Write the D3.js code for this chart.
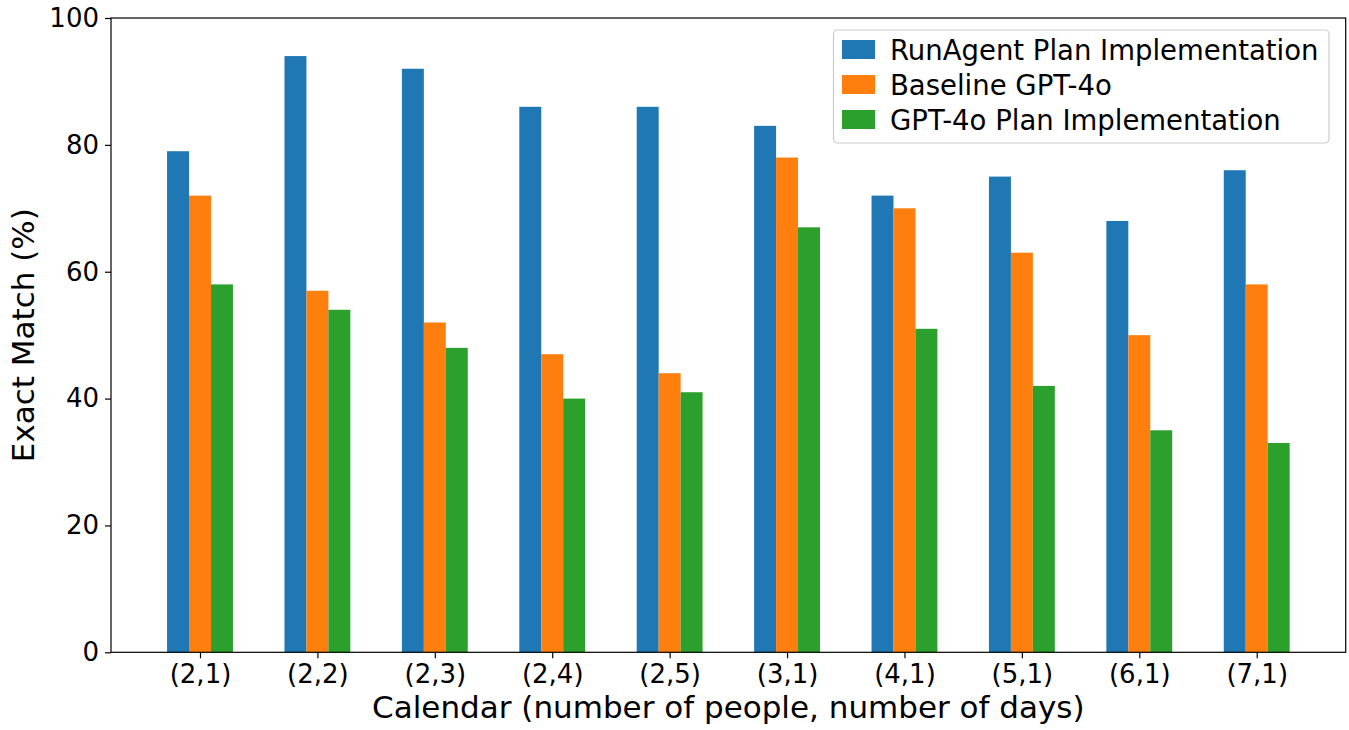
<!DOCTYPE html>
<html>
<head>
<meta charset="utf-8">
<script src="https://cdn.jsdelivr.net/npm/d3@7/dist/d3.min.js"></script>
<style>
  html, body { margin: 0; padding: 0; background: #fff; }
  svg { display: block; }
  text { font-family: "DejaVu Sans", sans-serif; fill: #000; }
</style>
</head>
<body>
<svg id="chart" width="1349" height="730"></svg>
<script>
const categories = ["(2,1)", "(2,2)", "(2,3)", "(2,4)", "(2,5)", "(3,1)", "(4,1)", "(5,1)", "(6,1)", "(7,1)"];
const seriesNames = ["RunAgent Plan Implementation", "Baseline GPT-4o", "GPT-4o Plan Implementation"];
const runAgent = [79, 94, 92, 86, 86, 83, 72, 75, 68, 76];
const baseline = [72, 57, 52, 47, 44, 78, 70, 63, 50, 58];
const gpt4oPlan = [58, 54, 48, 40, 41, 67, 51, 42, 35, 33];
const yTicks = [0, 20, 40, 60, 80, 100];
const colors = ["#1f77b4", "#ff7f0e", "#2ca02c"];
const series = [runAgent, baseline, gpt4oPlan];

const svg = d3.select("#chart");
const L = 111, R = 1345.7, T = 18, B = 652.3;
const barW = 0.187;

const x = d3.scaleLinear().domain([-0.758, categories.length - 1 + 0.758]).range([L, R]);
const y = d3.scaleLinear().domain([0, 100]).range([B, T]);

// bars
series.forEach((vals, si) => {
  svg.append("g").selectAll("rect").data(vals).enter().append("rect")
    .attr("x", (d, i) => x(i + (si - 1) * barW - barW / 2))
    .attr("width", x(barW) - x(0))
    .attr("y", d => y(d))
    .attr("height", d => y(0) - y(d))
    .attr("fill", colors[si]);
});

// axes
const xAxis = d3.axisBottom(x).tickValues(d3.range(categories.length)).tickFormat(i => categories[i]).tickSizeOuter(0).tickSize(6).tickPadding(6);
const gx = svg.append("g").attr("transform", `translate(0,${B})`).call(xAxis);
gx.select(".domain").remove();
gx.selectAll("text").attr("font-size", 26).attr("font-family", "DejaVu Sans").attr("dy", "0.72em");
gx.selectAll("line").attr("stroke", "#000").attr("stroke-width", 1.2);

const yAxis = d3.axisLeft(y).tickValues(yTicks).tickSizeOuter(0).tickSize(6).tickPadding(6);
const gy = svg.append("g").attr("transform", `translate(${L},0)`).call(yAxis);
gy.select(".domain").remove();
gy.selectAll("text").attr("font-size", 26).attr("font-family", "DejaVu Sans");
gy.selectAll("line").attr("stroke", "#000").attr("stroke-width", 1.2);

// frame
svg.append("rect").attr("x", L).attr("y", T).attr("width", R - L).attr("height", B - T)
  .attr("fill", "none").attr("stroke", "#000").attr("stroke-width", 1.2);

// axis labels
svg.append("text").attr("x", (L + R) / 2).attr("y", 718).attr("text-anchor", "middle")
  .attr("font-size", 31).text("Calendar (number of people, number of days)");
svg.append("text").attr("transform", `translate(34,${(T + B) / 2}) rotate(-90)`).attr("text-anchor", "middle")
  .attr("font-size", 31).text("Exact Match (%)");

// legend
const lg = svg.append("g");
lg.append("rect").attr("x", 833.5).attr("y", 30).attr("width", 495.5).attr("height", 113)
  .attr("rx", 4).attr("fill", "#fff").attr("fill-opacity", 0.8).attr("stroke", "#cccccc").attr("stroke-width", 1.2);
seriesNames.forEach((name, i) => {
  const yy = 40 + i * 35;
  lg.append("rect").attr("x", 842).attr("y", yy).attr("width", 33).attr("height", 19).attr("fill", colors[i]);
  lg.append("text").attr("x", 890).attr("y", yy + 19.5).attr("font-size", 27.5).text(name);
});
</script>
</body>
</html>
